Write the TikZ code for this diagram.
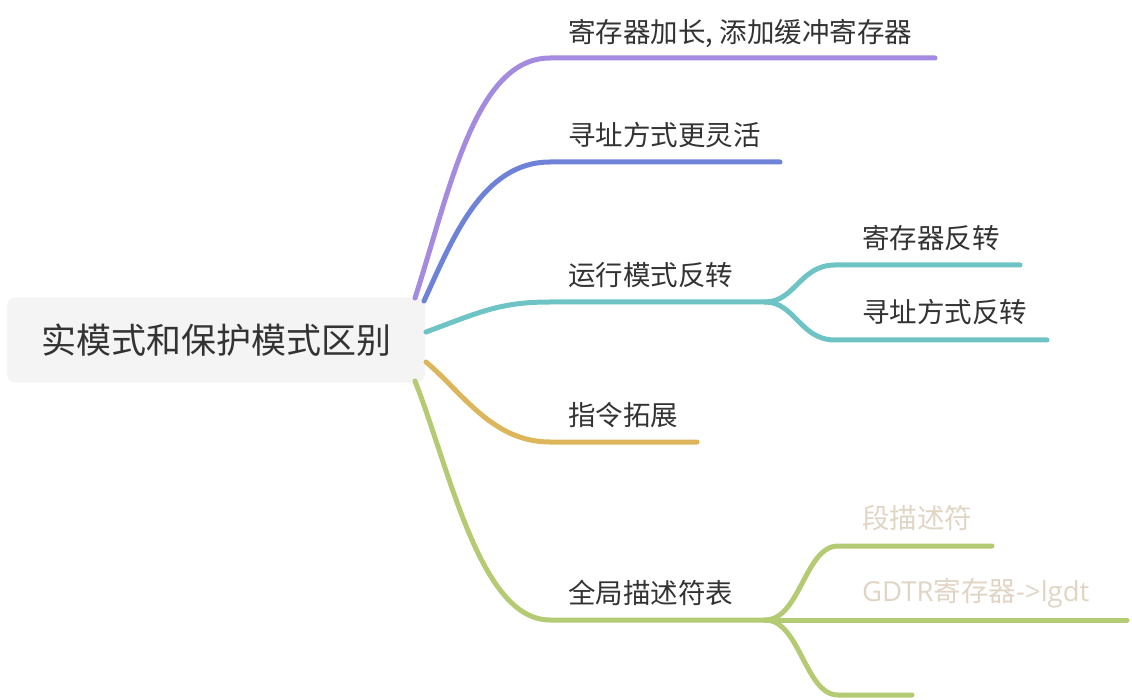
\documentclass[tikz,border=0pt]{standalone}
\usepackage{fontspec}
\newfontfamily\cjk{Noto Sans CJK SC}
\newfontfamily\lat{Open Sans}
\definecolor{cpurple}{HTML}{A58BE0}
\definecolor{cblue}{HTML}{6E82D8}
\definecolor{cteal}{HTML}{6EC4C4}
\definecolor{cgold}{HTML}{DDB55A}
\definecolor{cgreen}{HTML}{B4CB74}
\definecolor{ctext}{HTML}{333333}
\definecolor{cbeige}{HTML}{E0D5C4}
\definecolor{croot}{HTML}{F4F4F4}
\begin{document}
\begin{tikzpicture}[x=1pt,y=-1pt,
  rootbox/.style={fill=croot,rounded corners=8pt,minimum width=418pt,minimum height=85pt,inner sep=0pt,font=\cjk\fontsize{35}{40}\selectfont,text=ctext},
  lbl/.style={anchor=west,inner sep=0pt,font=\cjk\fontsize{27.5}{30}\selectfont,text=ctext},
  sublbl/.style={lbl,text=cbeige},
  branch/.style={line width=5pt,line cap=round}]
\useasboundingbox (0,0) rectangle (1132,700);
\node[rootbox] (root) at (216,340) {实模式和保护模式区别};
% labels
\node[lbl] (b1) at (568,33) {寄存器加长, 添加缓冲寄存器};
\node[lbl] (b2) at (568,135) {寻址方式更灵活};
\node[lbl] (b3) at (568,275) {运行模式反转};
\node[lbl] (b4) at (568,415) {指令拓展};
\node[lbl] (b5) at (568,593) {全局描述符表};
\node[lbl] (s31) at (862,238) {寄存器反转};
\node[lbl] (s32) at (862,312) {寻址方式反转};
\node[sublbl] (s51) at (862,518) {段描述符};
\node[sublbl] (s52) at (862,593) {{\lat GDTR}寄存器{\lat -{}>lgdt}};
% coordinates
\coordinate (r1) at (415,298);
\coordinate (r2) at (424,301);
\coordinate (r3) at (426,332);
\coordinate (r4) at (426,362);
\coordinate (r5) at (415,381);
\coordinate (e1) at (935,58);
\coordinate (e2) at (780,162);
\coordinate (e3) at (765,302);
\coordinate (e4) at (697,442);
\coordinate (e5) at (765,620);
\coordinate (e31) at (1020,265);
\coordinate (e32) at (1047,340);
\coordinate (e51) at (992,546);
\coordinate (e52) at (1127,620);
\coordinate (e53) at (912,695);
% branches
\draw[branch,cpurple] (r1) .. controls (450,190) and (475,58) .. (550,58) -- (e1);
\draw[branch,cblue] (r2) .. controls (452,240) and (482,162) .. (550,162) -- (e2);
\draw[branch,cteal] (r3) .. controls (480,312) and (500,302) .. (550,302) -- (e3);
\draw[branch,cgold] (r4) .. controls (462,392) and (492,442) .. (550,442) -- (e4);
\draw[branch,cgreen] (r5) .. controls (450,470) and (480,620) .. (550,620) -- (e5);
% teal subs
\draw[branch,cteal] (e3) .. controls (795,302) and (800,265) .. (835,265) -- (e31);
\draw[branch,cteal] (e3) .. controls (795,302) and (800,340) .. (835,340) -- (e32);
% green subs
\draw[branch,cgreen] (e5) .. controls (800,620) and (805,546) .. (838,546) -- (e51);
\draw[branch,cgreen] (e5) -- (e52);
\draw[branch,cgreen] (e5) .. controls (800,620) and (805,695) .. (838,695) -- (e53);
\end{tikzpicture}
\end{document}
